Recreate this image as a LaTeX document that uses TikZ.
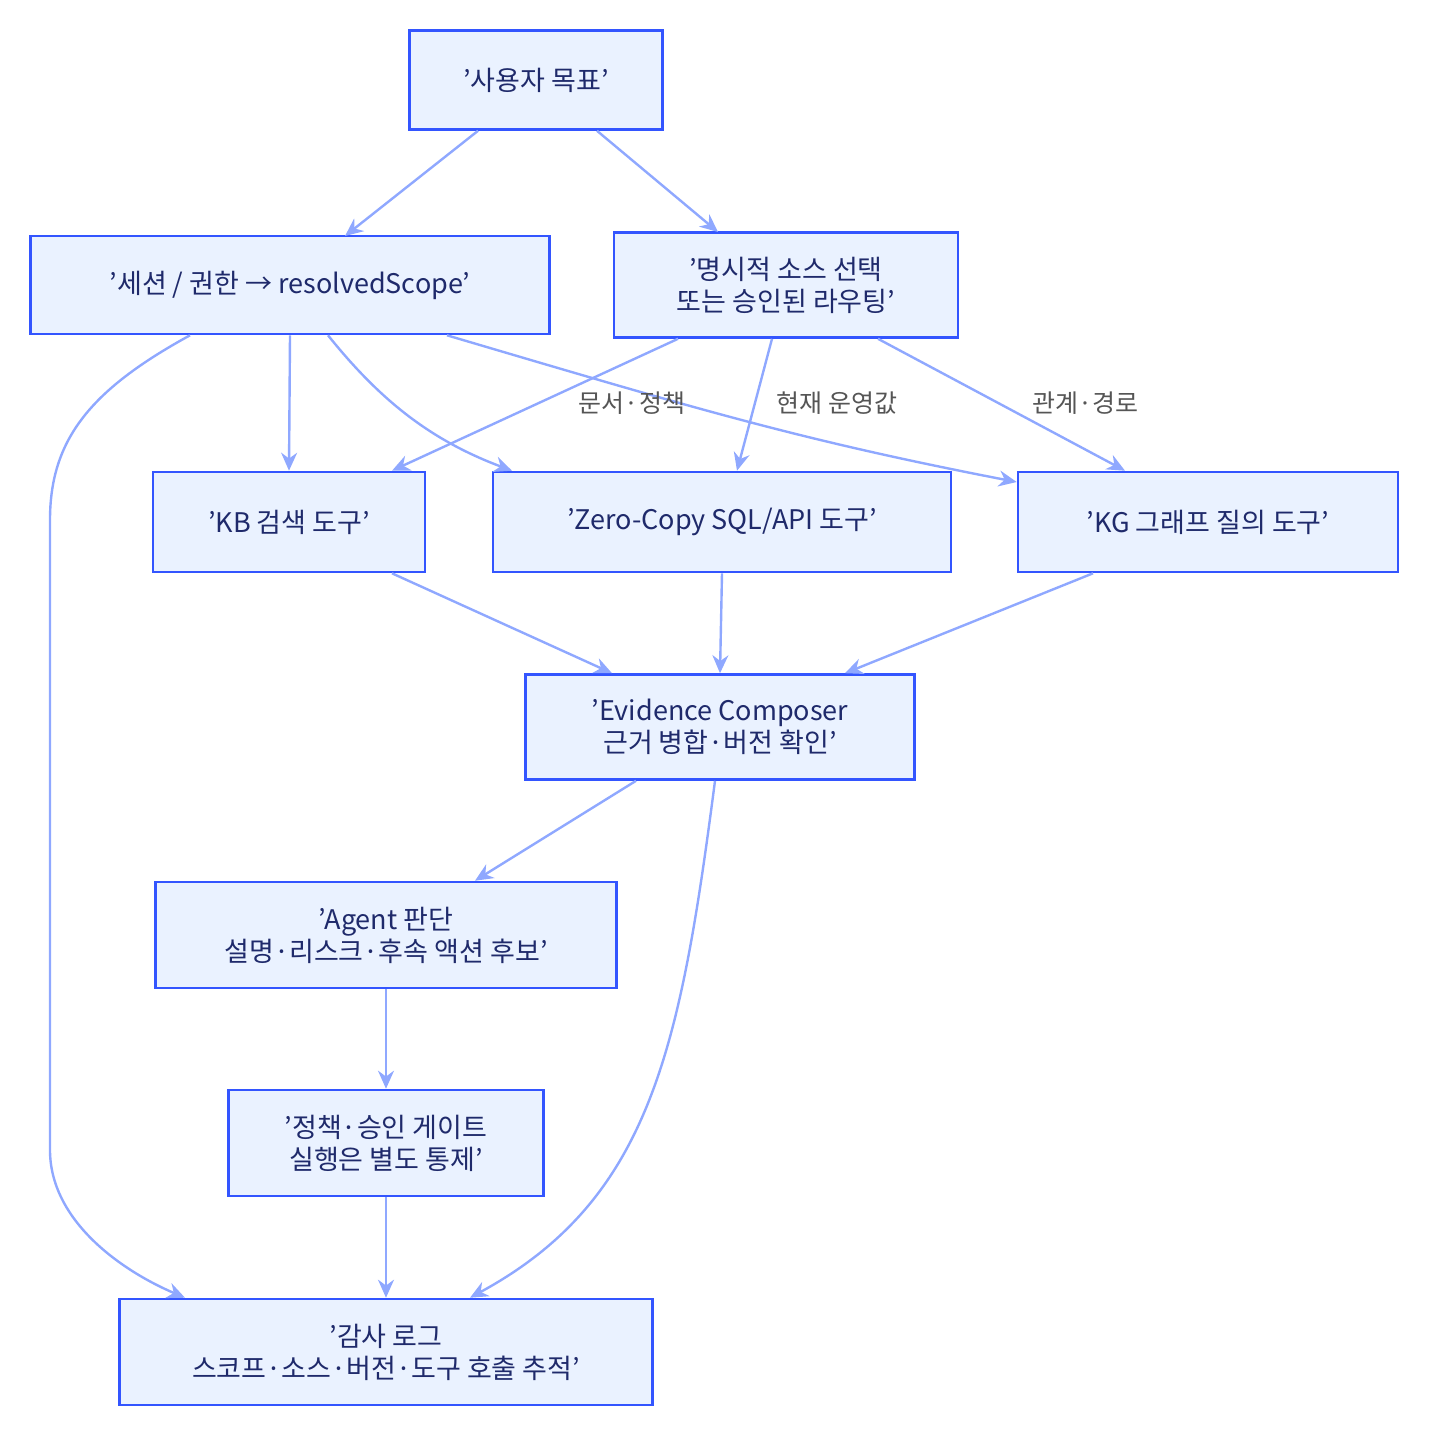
\documentclass[tikz,border=0pt]{standalone}
\usepackage{fontspec}
\setmainfont{Noto Sans CJK KR}
\usetikzlibrary{arrows.meta}
\definecolor{nfill}{HTML}{EAF2FF}
\definecolor{nborder}{HTML}{3355FF}
\definecolor{edge}{HTML}{8FA8FF}
\definecolor{ntext}{HTML}{1F2A6B}
\definecolor{ltext}{HTML}{555555}
\begin{document}
\begin{tikzpicture}[x=0.5pt,y=-0.5pt,
  box/.style={draw=nborder,fill=nfill,line width=1.3pt,text=ntext,font=\fontsize{13.5}{16}\selectfont,align=center,inner sep=0pt},
  e/.style={draw=edge,line width=1.2pt,-{Stealth[length=9pt,width=8pt]}},
  lab/.style={text=ltext,font=\fontsize{12.5}{15}\selectfont}]
\useasboundingbox (0,0) rectangle (1429,1435);
\node[box,minimum width=126.5pt,minimum height=49.5pt] (goal) at (536,80) {'사용자 목표'};
\node[box,minimum width=259.5pt,minimum height=49pt] (sess) at (290,285) {'세션 / 권한 → resolvedScope'};
\node[box,minimum width=172pt,minimum height=52.5pt] (expl) at (786,285) {'명시적 소스 선택\\또는 승인된 라우팅'};
\node[box,minimum width=136pt,minimum height=50pt] (kb) at (289,522) {'KB 검색 도구'};
\node[box,minimum width=229pt,minimum height=50pt] (zc) at (722,522) {'Zero-Copy SQL/API 도구'};
\node[box,minimum width=190pt,minimum height=50pt] (kg) at (1208,522) {'KG 그래프 질의 도구'};
\node[box,minimum width=194.5pt,minimum height=52.5pt] (ec) at (720,727) {'Evidence Composer\\근거 병합·버전 확인'};
\node[box,minimum width=230.5pt,minimum height=53pt] (ag) at (386,935) {'Agent 판단\\설명·리스크·후속 액션 후보'};
\node[box,minimum width=157.5pt,minimum height=53pt] (po) at (386,1143) {'정책·승인 게이트\\실행은 별도 통제'};
\node[box,minimum width=266.5pt,minimum height=53pt] (au) at (386,1352) {'감사 로그\\스코프·소스·버전·도구 호출 추적'};
\draw[e] (goal.south -| 478,0) -- (345,236);
\draw[e] (goal.south -| 597,0) -- (718,232);
\draw[e] (sess.south) -- (kb.north);
\draw[e] (sess.south -| 328,0) .. controls (380,400) and (430,440) .. (zc.north -| 512,0);
\draw[e] (sess.south -| 447,0) .. controls (700,410) and (800,440) .. (kg.north west |- 0,482);
\draw[e] (expl.south -| 678,0) -- (kb.north -| 392,0);
\draw[e] (expl.south -| 772,0) -- (zc.north -| 737,0);
\draw[e] (expl.south -| 878,0) -- (kg.north -| 1125,0);
\draw[e] (sess.south -| 190,0) .. controls (90,390) and (50,440) .. (50,520) -- (50,1150) .. controls (50,1220) and (120,1270) .. (au.north -| 185,0);
\draw[e] (kb.south -| 392,0) -- (ec.north -| 612,0);
\draw[e] (zc.south) -- (ec.north);
\draw[e] (kg.south -| 1093,0) -- (ec.north -| 845,0);
\draw[e] (ec.south -| 636,0) -- (ag.north -| 475,0);
\draw[e] (ec.south -| 715,0) .. controls (680,1050) and (650,1200) .. (au.north -| 470,0);
\draw[e] (ag.south) -- (po.north);
\draw[e] (po.south) -- (au.north);
\node[lab] (l1) at (632,403) {문서·정책};
\node[lab] (l2) at (837,403) {현재 운영값};
\node[lab] (l3) at (1085,403) {관계·경로};
\end{tikzpicture}
\end{document}
